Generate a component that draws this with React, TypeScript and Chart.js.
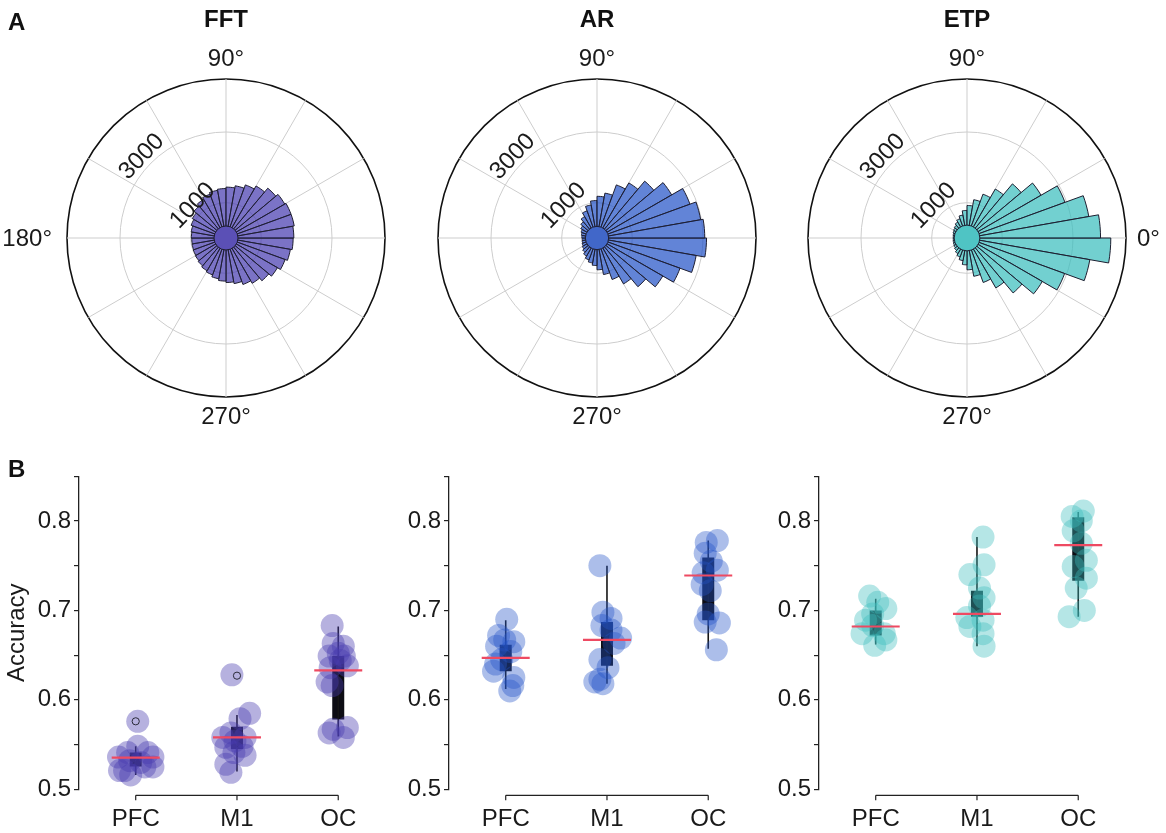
import React, { useEffect, useRef } from 'react';
import { Chart, registerables } from 'chart.js';

Chart.register(...registerables);

const FONT = "'Liberation Sans', Arial, Helvetica, sans-serif";
Chart.defaults.font.family = FONT;
Chart.defaults.color = '#1a1a1a';

// ---------------- Panel A: polar histograms (bins of 10°, counter-clockwise from 0°) ----------------
const BIN_START_DEG = [0, 10, 20, 30, 40, 50, 60, 70, 80, 90, 100, 110, 120, 130, 140, 150, 160, 170,
  180, 190, 200, 210, 220, 230, 240, 250, 260, 270, 280, 290, 300, 310, 320, 330, 340, 350];

const FFT_COUNTS = [1920, 1960, 1960, 1920, 1840, 1700, 1600, 1500, 1440, 1400, 1370, 1320, 1260, 1180,
  1100, 1050, 1000, 980, 970, 975, 985, 1000, 1030, 1070, 1110, 1170, 1220, 1260, 1310, 1400, 1480,
  1580, 1680, 1780, 1850, 1900];
const AR_COUNTS = [3050, 2980, 2800, 2440, 2100, 1800, 1600, 1290, 1180, 1060, 950, 820, 700, 600, 530,
  480, 450, 430, 420, 430, 450, 480, 530, 590, 660, 720, 780, 900, 1050, 1250, 1500, 1800, 2150, 2500,
  2850, 3100];
const ETP_COUNTS = [3780, 3500, 2950, 2420, 2000, 1600, 1320, 1100, 920, 780, 660, 580, 520, 470, 440,
  420, 400, 390, 390, 400, 410, 430, 460, 510, 570, 650, 760, 900, 1100, 1340, 1630, 2030, 2460, 2940,
  3530, 4070];

const R_TICKS = [1000, 3000];
const R_MAX = 4500;
const ANGLE_GRID_DEG = [0, 30, 60, 90, 120, 150, 180, 210, 240, 270, 300, 330];
const FFT_ANGLE_LABELS = [90, 180, 270];
const AR_ANGLE_LABELS = [90, 270];
const ETP_ANGLE_LABELS = [0, 90, 270];
const R_LABEL_ANGLE = 136;

// ---------------- Panel B: accuracy per region ----------------
const REGIONS = ['PFC', 'M1', 'OC'];
const Y_TICKS = [0.5, 0.55, 0.6, 0.65, 0.7, 0.75, 0.8, 0.85];

const FFT_PFC = [0.576, 0.548, 0.541, 0.541, 0.536, 0.536, 0.532, 0.530, 0.521, 0.525, 0.516, 0.521, 0.525];
const FFT_PFC_JIT = [0.02, 0.02, -0.08, 0.12, -0.17, 0.17, -0.06, 0.05, -0.11, 0.17, -0.05, -0.16, 0.09];
const FFT_M1 = [0.628, 0.585, 0.579, 0.563, 0.558, 0.558, 0.554, 0.547, 0.548, 0.541, 0.538, 0.528, 0.519];
const FFT_M1_JIT = [-0.05, 0.125, 0.03, -0.06, -0.14, 0.08, -0.02, -0.11, 0.05, -0.03, 0.08, -0.11, -0.06];
const FFT_OC = [0.683, 0.663, 0.660, 0.652, 0.649, 0.649, 0.644, 0.638, 0.636, 0.620, 0.616, 0.569, 0.567, 0.563, 0.558];
const FFT_OC_JIT = [-0.06, -0.05, 0.05, 0.0, -0.09, 0.06, 0.02, 0.09, -0.08, -0.11, -0.06, 0.09, -0.05, -0.09, 0.05];
const FFT_Q1 = [0.5255, 0.545, 0.578];
const FFT_Q3 = [0.541, 0.570, 0.649];
const FFT_WLO = [0.516, 0.520, 0.559];
const FFT_WHI = [0.548, 0.583, 0.682];
const FFT_MEAN = [0.5355, 0.558, 0.633];
const FFT_OUT_REGION = [1, 2];
const FFT_OUT_VALUE = [0.576, 0.627];

const AR_PFC = [0.690, 0.672, 0.667, 0.665, 0.660, 0.654, 0.645, 0.640, 0.625, 0.632, 0.616, 0.610];
const AR_PFC_JIT = [0.01, -0.07, -0.01, 0.08, -0.09, 0.05, -0.04, -0.10, 0.08, -0.12, 0.07, 0.04];
const AR_M1 = [0.750, 0.698, 0.691, 0.683, 0.678, 0.669, 0.663, 0.645, 0.636, 0.623, 0.620, 0.618];
const AR_M1_JIT = [-0.07, -0.04, 0.04, -0.05, 0.04, 0.135, 0.07, -0.07, 0.01, -0.07, -0.12, -0.04];
const AR_OC = [0.778, 0.776, 0.764, 0.755, 0.745, 0.742, 0.729, 0.722, 0.696, 0.687, 0.686, 0.656];
const AR_OC_JIT = [0.09, -0.02, -0.03, 0.03, 0.09, -0.05, -0.06, 0.02, 0.0, -0.03, 0.11, 0.08];
const AR_Q1 = [0.632, 0.638, 0.689];
const AR_Q3 = [0.6615, 0.687, 0.759];
const AR_WLO = [0.612, 0.618, 0.657];
const AR_WHI = [0.689, 0.750, 0.778];
const AR_MEAN = [0.647, 0.667, 0.739];

const ETP_PFC = [0.716, 0.709, 0.702, 0.696, 0.689, 0.683, 0.674, 0.674, 0.667, 0.661];
const ETP_PFC_JIT = [-0.06, 0.02, 0.10, -0.03, -0.10, -0.03, -0.135, 0.085, 0.10, -0.01];
const ETP_M1 = [0.782, 0.751, 0.740, 0.725, 0.714, 0.705, 0.692, 0.689, 0.682, 0.674, 0.660];
const ETP_M1_JIT = [0.06, 0.07, -0.07, 0.025, 0.07, 0.025, -0.10, 0.06, -0.07, 0.06, 0.07];
const ETP_OC = [0.811, 0.805, 0.800, 0.789, 0.775, 0.756, 0.749, 0.736, 0.725, 0.700, 0.693];
const ETP_OC_JIT = [0.05, -0.06, 0.03, -0.05, 0.03, 0.08, -0.05, 0.08, -0.02, 0.06, -0.09];
const ETP_Q1 = [0.672, 0.693, 0.733];
const ETP_Q3 = [0.700, 0.722, 0.804];
const ETP_WLO = [0.662, 0.660, 0.693];
const ETP_WHI = [0.713, 0.782, 0.810];
const ETP_MEAN = [0.682, 0.696, 0.773];

// ---------------- layout / style ----------------
const FS = 24;
const LH = FS * 1.2;
const ROSE_H = 440;
const ROSE_CY = 238;
const ROSE_R = 159;
const TEXT = '#1a1a1a';

const ROSES = [
  { title: 'FFT', counts: FFT_COUNTS, labels: FFT_ANGLE_LABELS, left: 0, width: 400, cx: 226,
    fill: 'rgba(72,61,176,0.72)', disc: '#5b50b6', discR: 340 },
  { title: 'AR', counts: AR_COUNTS, labels: AR_ANGLE_LABELS, left: 400, width: 390, cx: 597,
    fill: 'rgba(37,85,200,0.72)', disc: '#4167c9', discR: 330 },
  { title: 'ETP', counts: ETP_COUNTS, labels: ETP_ANGLE_LABELS, left: 780, width: 386, cx: 967,
    fill: 'rgba(60,190,190,0.72)', disc: '#4fc4c4', discR: 365 },
];

const STRIP_TOP = 450;
const STRIP_H = 383;
const STRIPS = [
  { left: 0, showTitle: true, groups: [FFT_PFC, FFT_M1, FFT_OC], jit: [FFT_PFC_JIT, FFT_M1_JIT, FFT_OC_JIT],
    q1: FFT_Q1, q3: FFT_Q3, lo: FFT_WLO, hi: FFT_WHI, mean: FFT_MEAN, outR: FFT_OUT_REGION, outV: FFT_OUT_VALUE,
    dot: 'rgba(72,61,176,0.40)' },
  { left: 370, showTitle: false, groups: [AR_PFC, AR_M1, AR_OC], jit: [AR_PFC_JIT, AR_M1_JIT, AR_OC_JIT],
    q1: AR_Q1, q3: AR_Q3, lo: AR_WLO, hi: AR_WHI, mean: AR_MEAN, outR: [], outV: [],
    dot: 'rgba(37,85,200,0.38)' },
  { left: 740, showTitle: false, groups: [ETP_PFC, ETP_M1, ETP_OC], jit: [ETP_PFC_JIT, ETP_M1_JIT, ETP_OC_JIT],
    q1: ETP_Q1, q3: ETP_Q3, lo: ETP_WLO, hi: ETP_WHI, mean: ETP_MEAN, outR: [], outV: [],
    dot: 'rgba(60,190,190,0.38)' },
];

const rad = (d: number) => (d * Math.PI) / 180;

const roseDecor = {
  id: 'roseDecor',
  beforeDatasetsDraw(chart: any) {
    const s = chart.scales.r;
    const ctx = chart.ctx;
    ctx.save();
    ctx.strokeStyle = '#cdcdcd';
    ctx.lineWidth = 1;
    ANGLE_GRID_DEG.forEach((a) => {
      ctx.beginPath();
      ctx.moveTo(s.xCenter, s.yCenter);
      ctx.lineTo(s.xCenter + s.drawingArea * Math.cos(rad(a)), s.yCenter - s.drawingArea * Math.sin(rad(a)));
      ctx.stroke();
    });
    ctx.restore();
  },
  afterDatasetsDraw(chart: any, _args: any, opts: any) {
    const s = chart.scales.r;
    const ctx = chart.ctx;
    ctx.save();
    // centre disc
    ctx.beginPath();
    ctx.arc(s.xCenter, s.yCenter, s.getDistanceFromCenterForValue(opts.discR), 0, Math.PI * 2);
    ctx.fillStyle = opts.disc;
    ctx.fill();
    ctx.strokeStyle = '#1e1e30';
    ctx.lineWidth = 1;
    ctx.stroke();
    // radial tick labels
    ctx.fillStyle = TEXT;
    ctx.font = `${FS}px ${FONT}`;
    ctx.textAlign = 'center';
    ctx.textBaseline = 'middle';
    R_TICKS.forEach((v) => {
      const d = s.getDistanceFromCenterForValue(v) + 11;
      ctx.save();
      ctx.translate(s.xCenter + d * Math.cos(rad(R_LABEL_ANGLE)), s.yCenter - d * Math.sin(rad(R_LABEL_ANGLE)));
      ctx.rotate(-rad(R_LABEL_ANGLE - 90));
      ctx.fillText(String(v), 0, 0);
      ctx.restore();
    });
    // angle labels
    (opts.labels as number[]).forEach((a) => {
      const c = Math.cos(rad(a));
      const sn = Math.sin(rad(a));
      let x = s.xCenter;
      let y = s.yCenter;
      if (Math.abs(c) > 0.5) {
        ctx.textAlign = c > 0 ? 'left' : 'right';
        x = s.xCenter + (s.drawingArea + (c > 0 ? 11 : 15)) * c;
        y = s.yCenter + 1;
      } else {
        ctx.textAlign = 'center';
        y = s.yCenter - (s.drawingArea + 20) * sn;
      }
      ctx.fillText(`${a}°`, x, y);
    });
    ctx.restore();
  },
};

const xSpine = {
  id: 'xSpine',
  afterDraw(chart: any) {
    const xs = chart.scales.x;
    const ctx = chart.ctx;
    const y0 = chart.chartArea.bottom + 6;
    const vals = xs.ticks.map((t: any) => t.value);
    ctx.save();
    ctx.strokeStyle = '#222';
    ctx.lineWidth = 1.2;
    ctx.beginPath();
    ctx.moveTo(xs.getPixelForValue(vals[0]), y0);
    ctx.lineTo(xs.getPixelForValue(vals[vals.length - 1]), y0);
    vals.forEach((v: number) => {
      const p = xs.getPixelForValue(v);
      ctx.moveTo(p, y0);
      ctx.lineTo(p, y0 + 5);
    });
    ctx.stroke();
    ctx.restore();
  },
};

function Rose({ cfg }: { cfg: any }) {
  const ref = useRef<HTMLCanvasElement>(null);
  useEffect(() => {
    const chart = new Chart(ref.current as HTMLCanvasElement, {
      type: 'polarArea',
      data: {
        labels: BIN_START_DEG.slice().reverse().map((d) => `${d}°`),
        datasets: [{
          data: cfg.counts.slice().reverse(),
          backgroundColor: cfg.fill,
          borderColor: '#1e1e30',
          borderWidth: 1,
        }],
      },
      options: {
        responsive: false,
        animation: false,
        devicePixelRatio: 1,
        layout: {
          padding: {
            left: cfg.cx - ROSE_R - cfg.left,
            right: cfg.left + cfg.width - (cfg.cx + ROSE_R),
            top: 0,
            bottom: ROSE_H - (ROSE_CY + ROSE_R),
          },
        },
        plugins: {
          legend: { display: false },
          tooltip: { enabled: false },
          title: {
            display: true,
            text: cfg.title,
            color: '#111',
            font: { size: FS, weight: 'bold', family: FONT },
            padding: { top: 20.6 - LH / 2, bottom: ROSE_CY - ROSE_R - (20.6 - LH / 2) - LH },
          },
          roseDecor: { disc: cfg.disc, discR: cfg.discR, labels: cfg.labels },
        } as any,
        scales: {
          r: {
            min: 0,
            max: R_MAX,
            startAngle: 90,
            ticks: { display: false },
            afterBuildTicks: (s: any) => {
              s.ticks = [0, ...R_TICKS, R_MAX].map((v) => ({ value: v }));
            },
            grid: {
              circular: true,
              color: (c: any) => (c.tick && c.tick.value === R_MAX ? '#111' : '#cdcdcd'),
              lineWidth: (c: any) => (c.tick && c.tick.value === R_MAX ? 1.6 : 1),
            },
            angleLines: { display: false },
            pointLabels: { display: false },
          },
        } as any,
      },
      plugins: [roseDecor],
    });
    return () => chart.destroy();
  }, []);
  return (
    <canvas
      ref={ref}
      width={cfg.width}
      height={ROSE_H}
      style={{ position: 'absolute', left: cfg.left, top: 0, width: cfg.width, height: ROSE_H }}
    />
  );
}

const STRIP_W = 409;

function Strip({ cfg }: { cfg: any }) {
  const ref = useRef<HTMLCanvasElement>(null);
  useEffect(() => {
    const medians = {
      type: 'scatter',
      data: cfg.mean.map((m: number, i: number) => ({ x: i + 1, y: m })),
      pointStyle: 'line',
      pointRadius: 24,
      pointHoverRadius: 24,
      pointBorderColor: '#ee4a62',
      pointBorderWidth: 2.2,
      borderColor: '#ee4a62',
    };
    const outliers = {
      type: 'scatter',
      data: cfg.outR.map((r: number, i: number) => ({ x: r, y: cfg.outV[i] })),
      pointStyle: 'circle',
      pointRadius: 3.6,
      pointBackgroundColor: 'rgba(0,0,0,0)',
      pointBorderColor: '#2a2a3a',
      pointBorderWidth: 1,
    };
    const dots = cfg.groups.map((g: number[], gi: number) => ({
      type: 'scatter',
      data: g.map((v, i) => ({ x: gi + 1 + cfg.jit[gi][i], y: v })),
      pointRadius: 11.5,
      pointHoverRadius: 11.5,
      pointBackgroundColor: cfg.dot,
      pointBorderWidth: 0,
    }));
    const whiskers = REGIONS.map((_, i) => ({
      type: 'line',
      data: [{ x: i + 1, y: cfg.lo[i] }, { x: i + 1, y: cfg.hi[i] }],
      borderColor: '#151515',
      borderWidth: 1.6,
      pointRadius: 0,
    }));
    const boxes = REGIONS.map((_, i) => ({
      type: 'line',
      data: [{ x: i + 1, y: cfg.q1[i] }, { x: i + 1, y: cfg.q3[i] }],
      borderColor: '#0d0d14',
      borderWidth: 12,
      borderCapStyle: 'butt',
      pointRadius: 0,
    }));
    const chart = new Chart(ref.current as HTMLCanvasElement, {
      type: 'scatter',
      data: { datasets: [medians, outliers, ...dots, ...whiskers, ...boxes] as any },
      options: {
        responsive: false,
        animation: false,
        devicePixelRatio: 1,
        layout: { padding: { top: 19.4, left: 0, right: 10, bottom: 0 } },
        plugins: { legend: { display: false }, tooltip: { enabled: false } },
        scales: {
          x: {
            type: 'linear',
            min: 0.44,
            max: 3.44,
            afterBuildTicks: (s: any) => {
              s.ticks = REGIONS.map((_, i) => ({ value: i + 1 }));
            },
            afterFit: (s: any) => {
              s.height = 43.7;
            },
            ticks: {
              callback: (v: any) => REGIONS[Math.round(v) - 1] ?? '',
              font: { size: FS },
              color: TEXT,
              padding: 30 - LH / 2,
              maxRotation: 0,
              autoSkip: false,
            },
            grid: { display: false, drawTicks: false },
            border: { display: false },
          },
          y: {
            min: 0.5,
            max: 0.85,
            afterBuildTicks: (s: any) => {
              s.ticks = Y_TICKS.map((v) => ({ value: v }));
            },
            afterFit: (s: any) => {
              s.width = 79;
            },
            ticks: {
              callback: (v: any) => (Math.abs(v * 10 - Math.round(v * 10)) < 1e-6 ? Number(v).toFixed(1) : ''),
              font: { size: FS },
              color: TEXT,
              padding: 3,
              autoSkip: false,
            },
            grid: { drawOnChartArea: false, drawTicks: true, tickLength: 5, color: '#222', lineWidth: 1.2 },
            border: { display: true, color: '#222', width: 1.3 },
            title: {
              display: cfg.showTitle,
              text: 'Accuracy',
              font: { size: FS },
              color: TEXT,
              padding: { top: 17 - LH / 2, bottom: 0 },
            },
          },
        } as any,
      },
      plugins: [xSpine],
    });
    return () => chart.destroy();
  }, []);
  return (
    <canvas
      ref={ref}
      width={STRIP_W}
      height={STRIP_H}
      style={{ position: 'absolute', left: cfg.left, top: STRIP_TOP, width: STRIP_W, height: STRIP_H }}
    />
  );
}

export default function App() {
  const panelLetter: React.CSSProperties = {
    position: 'absolute',
    left: 8,
    font: `bold ${FS}px ${FONT}`,
    lineHeight: `${FS}px`,
    color: '#111',
  };
  return (
    <div style={{ position: 'absolute', left: 0, top: 0, width: 1166, height: 833, background: '#fff', overflow: 'hidden' }}>
      {ROSES.map((r) => (
        <Rose key={r.title} cfg={r} />
      ))}
      {STRIPS.map((s, i) => (
        <Strip key={i} cfg={s} />
      ))}
      <div style={{ ...panelLetter, top: 10 }}>A</div>
      <div style={{ ...panelLetter, top: 457 }}>B</div>
    </div>
  );
}
